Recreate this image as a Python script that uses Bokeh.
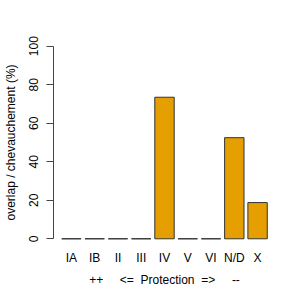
from bokeh.plotting import figure
from bokeh.models import Range1d, FixedTicker
from bokeh.embed import file_html
from bokeh.resources import INLINE

categories = ["IA", "IB", "II", "III", "IV", "V", "VI", "N/D", "X"]
overlap = [0, 0, 0, 0, 73.5, 0, 0, 52.5, 18.8]
y_ticks = [0, 20, 40, 60, 80, 100]

bar_width = 1.0
space = 0.2
centers = [space + bar_width / 2 + i * (bar_width + space) for i in range(len(categories))]
x_lo = space
x_hi = len(categories) * (bar_width + space)
pad = 0.04 * (x_hi - x_lo)

p = figure(width=300, height=300, output_backend="svg", toolbar_location=None,
           x_range=Range1d(x_lo - pad, x_hi + pad), y_range=Range1d(-4, 104),
           min_border_left=49, min_border_right=25, min_border_top=38, min_border_bottom=54)
p.outline_line_color = None
p.xgrid.visible = False
p.ygrid.visible = False
p.background_fill_color = "white"
p.border_fill_color = "white"

p.vbar(x=centers, top=overlap, bottom=0, width=bar_width,
       fill_color="#E69F00", line_color="#333333", line_width=1)

font = "Liberation Sans"

yax = p.yaxis[0]
yax.ticker = FixedTicker(ticks=y_ticks)
yax.bounds = (0, 100)
yax.axis_line_color = "#444444"
yax.major_tick_line_color = "#444444"
yax.major_tick_out = 7
yax.major_tick_in = 0
yax.minor_tick_line_color = None
yax.major_label_orientation = "vertical"
yax.major_label_standoff = 8
yax.major_label_text_font = font
yax.major_label_text_font_size = "12px"
yax.major_label_text_color = "black"
yax.axis_label = "overlap / chevauchement (%)"
yax.axis_label_text_font = font
yax.axis_label_text_font_size = "12px"
yax.axis_label_text_font_style = "normal"
yax.axis_label_text_color = "black"
yax.axis_label_standoff = 9

xax = p.xaxis[0]
xax.ticker = FixedTicker(ticks=centers)
xax.major_label_overrides = {c: lab for c, lab in zip(centers, categories)}
xax.axis_line_color = None
xax.major_tick_line_color = None
xax.minor_tick_line_color = None
xax.major_label_standoff = -2
xax.major_label_text_font = font
xax.major_label_text_font_size = "12px"
xax.major_label_text_color = "black"
nb = "\u00a0"
xax.axis_label = "++" + nb * 5 + "<=" + nb * 2 + "Protection" + nb * 2 + "=>" + nb * 5 + "--"
xax.axis_label_text_font = font
xax.axis_label_text_font_size = "12px"
xax.axis_label_text_font_style = "normal"
xax.axis_label_text_color = "black"
xax.axis_label_standoff = 5

open("out.html", "w").write(file_html(p, INLINE))
